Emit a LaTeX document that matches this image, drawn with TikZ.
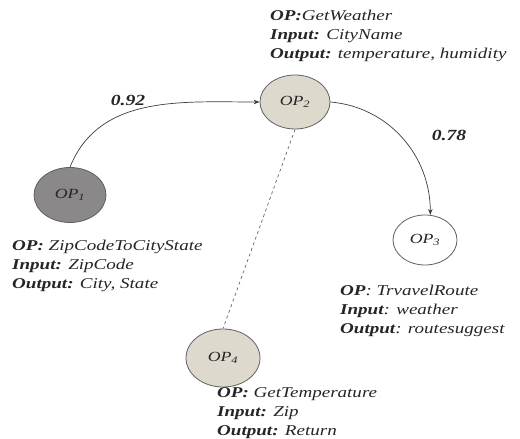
\documentclass[tikz,border=0pt]{standalone}
\usepackage{fontspec}
\setmainfont{Liberation Serif}
\newfontfamily\widefont[FakeStretch=1.27]{Liberation Serif}
\usetikzlibrary{shapes.geometric,arrows.meta}
\definecolor{opdark}{HTML}{8A8888}
\definecolor{oplight}{HTML}{DDDACD}
\definecolor{edgegray}{HTML}{3C3C3C}
\definecolor{textgray}{HTML}{252525}
\tikzset{
  opnode/.style={ellipse, draw=gray!75!black, line width=0.8pt, inner sep=0pt, text=textgray, font=\widefont\fontsize{14}{16}\selectfont\itshape},
  infolabel/.style={anchor=north west, align=left, inner sep=0pt, text=textgray, font=\widefont\fontsize{15}{19}\selectfont\itshape},
  weight/.style={text=textgray, font=\widefont\fontsize{15.5}{17}\selectfont\bfseries\itshape},
  flow/.style={draw=edgegray, line width=0.7pt, -{Stealth[length=6pt,width=4.5pt]}},
  link/.style={draw=gray!80!black, line width=0.7pt, dashed}
}
\begin{document}
\begin{tikzpicture}[x=1pt,y=1pt]
\useasboundingbox (0,0) rectangle (520,439);
\node[opnode, fill=opdark, minimum width=72pt, minimum height=55pt] (op1) at (70,244) {OP\textsubscript{1}};
\node[opnode, fill=oplight, minimum width=70pt, minimum height=54pt] (op2) at (295,337) {OP\textsubscript{2}};
\node[opnode, fill=white, minimum width=64pt, minimum height=50pt] (op3) at (425,199) {OP\textsubscript{3}};
\node[opnode, fill=oplight, minimum width=74pt, minimum height=58pt] (op4) at (223,81) {OP\textsubscript{4}};

\draw[flow] (op1.north) to[out=68,in=180] (op2.west);
\draw[flow] (op2.east) to[out=-5,in=90] (op3.78);
\draw[link] (op2.south) -- (op4.north);

\node[weight] (w1) at (128,339) {0.92};
\node[weight] (w2) at (449,304) {0.78};

\node[infolabel] (l2) at (270,429) {\textbf{OP:}GetWeather\\ \textbf{Input:} CityName\\ \textbf{Output:} temperature, humidity};
\node[infolabel] (l1) at (12,199) {\textbf{OP:} ZipCodeToCityState\\ \textbf{Input:} ZipCode\\ \textbf{Output:} City, State};
\node[infolabel] (l3) at (340,154) {\textbf{OP}: TrvavelRoute\\ \textbf{Input}: weather\\ \textbf{Output}: routesuggest};
\node[infolabel] (l4) at (217,52) {\textbf{OP:} GetTemperature\\ \textbf{Input:} Zip\\ \textbf{Output:} Return};
\end{tikzpicture}
\end{document}
